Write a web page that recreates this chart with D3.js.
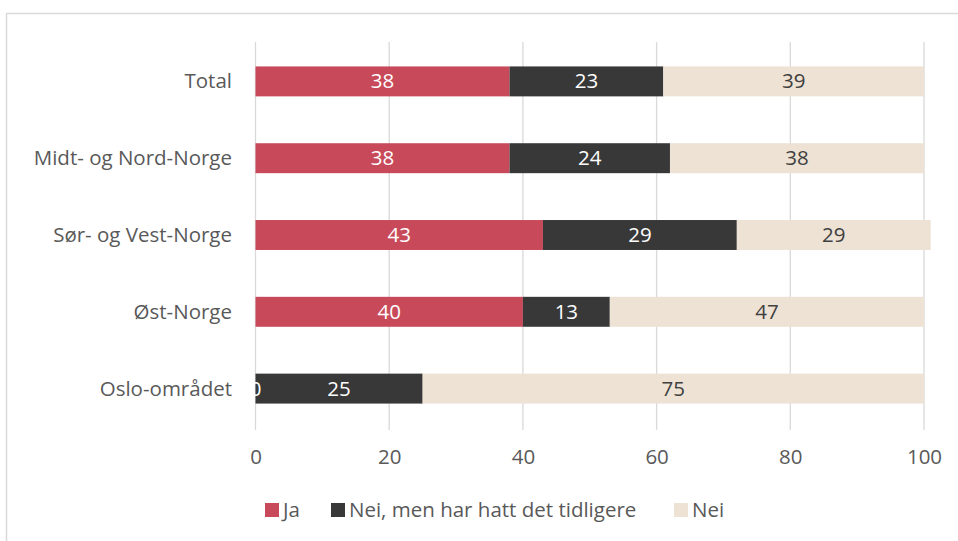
<!DOCTYPE html>
<html>
<head>
<meta charset="utf-8">
<script src="https://cdn.jsdelivr.net/npm/d3@7"></script>
<style>
  html, body { margin: 0; padding: 0; background: #fff; }
  svg { display: block; font-family: "Open Sans", Lato, sans-serif; }
</style>
</head>
<body>
<svg id="chart" width="958" height="541"></svg>
<script>
// Regions, top to bottom
const categories = ["Total", "Midt- og Nord-Norge", "Sør- og Vest-Norge", "Øst-Norge", "Oslo-området"];
// Share of respondents (%) per answer
const ja = [38, 38, 43, 40, 0];
const neiTidligere = [23, 24, 29, 13, 25];
const nei = [39, 38, 29, 47, 75];
const seriesNames = ["Ja", "Nei, men har hatt det tidligere", "Nei"];
const xTicks = [0, 20, 40, 60, 80, 100];

const colors = ["#C84A5A", "#383838", "#EDE2D4"];
const labelColors = ["#ffffff", "#ffffff", "#404040"];
const FONT = "'Open Sans', Lato, sans-serif";
const FS = 20.5;

const rows = categories.map((c, i) => ({ cat: c, v: [ja[i], neiTidligere[i], nei[i]] }));

const svg = d3.select("#chart");

// outer frame
svg.append("rect")
  .attr("x", 6.5).attr("y", 13.5)
  .attr("width", 1000).attr("height", 600)
  .attr("fill", "none").attr("stroke", "#d9d9d9").attr("stroke-width", 1.5);

const x = d3.scaleLinear().domain([0, 100]).range([255.5, 924]);
const y = d3.scaleBand().domain(categories).range([43, 427]).paddingInner(0.61).paddingOuter(0.305);

// vertical gridlines
svg.append("g").selectAll("line").data(xTicks).join("line")
  .attr("x1", d => x(d)).attr("x2", d => x(d))
  .attr("y1", 42).attr("y2", 430)
  .attr("stroke", "#d9d9d9").attr("stroke-width", 1.3);

// x-axis tick labels
const xAxis = d3.axisBottom(x).tickValues(xTicks).tickSize(0).tickPadding(0);
const gx = svg.append("g").attr("transform", "translate(0,464)").call(xAxis);
gx.select(".domain").remove();
gx.selectAll("text")
  .attr("font-family", FONT)
  .attr("font-size", FS).attr("fill", "#595959").attr("y", 0).attr("dy", 0);

// category labels
const yAxis = d3.axisLeft(y).tickSize(0).tickPadding(0);
const gy = svg.append("g").attr("transform", "translate(232,0)").call(yAxis);
gy.select(".domain").remove();
gy.selectAll("text")
  .attr("font-family", FONT)
  .attr("font-size", FS).attr("fill", "#595959").attr("dy", 7);

// stacked bars
const stack = d3.stack().keys([0, 1, 2]).value((d, k) => d.v[k]);
const stacked = stack(rows);

const layers = svg.append("g").selectAll("g").data(stacked).join("g")
  .attr("fill", (d, i) => colors[i]);

layers.selectAll("rect").data(d => d).join("rect")
  .attr("x", d => x(d[0]))
  .attr("width", d => x(d[1]) - x(d[0]))
  .attr("y", d => y(d.data.cat))
  .attr("height", y.bandwidth());

// value labels
const lbl = svg.append("g").selectAll("g").data(stacked).join("g")
  .attr("fill", (d, i) => labelColors[i]);

lbl.selectAll("text").data(d => d.map(e => Object.assign(e, { key: d.key }))).join("text")
  .attr("x", d => (x(d[0]) + x(d[1])) / 2)
  .attr("y", d => y(d.data.cat) + y.bandwidth() / 2)
  .attr("dy", 7)
  .attr("text-anchor", "middle")
  .attr("font-family", FONT)
  .attr("font-size", FS)
  .text(d => d.data.v[d.key]);

// legend
const legendX = [265, 331, 674];
const lg = svg.append("g").selectAll("g").data(seriesNames).join("g")
  .attr("transform", (d, i) => `translate(${legendX[i]},503)`);
lg.append("rect").attr("width", 14).attr("height", 14).attr("fill", (d, i) => colors[i]);
lg.append("text").attr("x", 18).attr("y", 14)
  .attr("font-family", FONT)
  .attr("font-size", FS).attr("fill", "#595959").text(d => d);
</script>
</body>
</html>
